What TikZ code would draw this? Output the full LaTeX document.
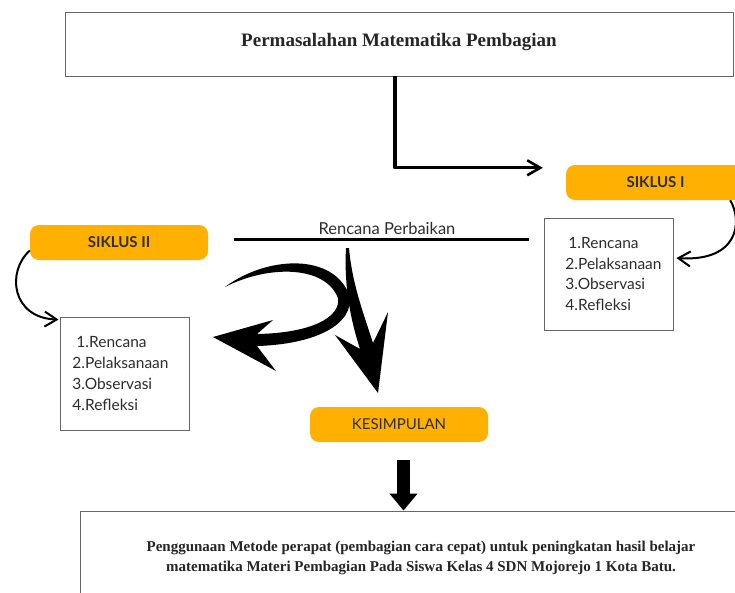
\documentclass[tikz,border=0pt]{standalone}
\usepackage{fontspec}
\setmainfont{Liberation Serif}
\newfontfamily\lato{Lato}
\usetikzlibrary{arrows.meta,calc}
\definecolor{orng}{RGB}{255,176,0}
\definecolor{txt}{RGB}{45,45,45}
\begin{document}
\begin{tikzpicture}[x=1pt,y=-1pt,
  box/.style={draw=black!60, line width=0.9pt, inner sep=0pt},
  pill/.style={fill=orng, rounded corners=9pt, inner sep=0pt, text=txt, minimum width=178pt, minimum height=35pt},
  conn/.style={line width=3.2pt, line join=round, -{Straight Barb[length=13pt,width=15pt,line width=2.6pt]}},
  curv/.style={line width=2pt, -{Straight Barb[length=12pt,width=15pt,line width=2pt]}},
  lst/.style={align=left, font=\lato\fontsize{15.5}{20.7}\selectfont, text=txt, inner sep=0pt},
  lbl/.style={font=\lato\bfseries\fontsize{15}{17}\selectfont},
  brush/.style={fill=black}]
\useasboundingbox (0,0) rectangle (735,592);
\fill[white] (0,0) rectangle (735,592);

% title box
\node[box, minimum width=668pt, minimum height=64pt] (top) at (399,44) {};
\node[font=\bfseries\fontsize{19}{22}\selectfont, text=black!85] (tt) at (399,42) {Permasalahan Matematika Pembagian};

% pills
\node[pill, lbl, minimum width=179pt] (s1) at (655.5,182.5) {SIKLUS I};
\node[pill, lbl] (s2) at (119,242.5) {SIKLUS II};
\node[pill, font=\lato\fontsize{15}{17}\selectfont] (kes) at (399,424.5) {KESIMPULAN};

% list boxes
\node[box, minimum width=129pt, minimum height=112pt] (b1) at (608.5,274) {};
\node[lst] (l1) at ([xshift=5pt]b1.center) {\hspace*{3pt}1.Rencana\\2.Pelaksanaan\\3.Observasi\\4.Refleksi};
\node[box, minimum width=129pt, minimum height=113pt] (b2) at (124.5,373.5) {};
\node[lst] (l2) at ([xshift=-4pt]b2.center) {\hspace*{4pt}1.Rencana\\2.Pelaksanaan\\3.Observasi\\4.Refleksi};

% Rencana Perbaikan
\node[font=\lato\fontsize{16.5}{18}\selectfont, text=txt] (rp) at (387,228) {Rencana Perbaikan};
\coordinate (rl) at (234,239);
\coordinate (rr) at (529,239);
\draw[line width=3pt] (rl) -- (rr);

% bottom box
\node[box, minimum width=665pt, minimum height=89pt] (bot) at (412.5,555.5) {};
\node[align=center, font=\bfseries\fontsize{15}{20}\selectfont, text=black!85] (bt) at (421,558)
  {Penggunaan Metode perapat (pembagian cara cepat) untuk peningkatan hasil belajar\\
   matematika Materi Pembagian Pada Siswa Kelas 4 SDN Mojorejo 1 Kota Batu.};

% connectors
\draw[conn] ([xshift=-4pt]top.south) |- ([xshift=-23pt,yshift=-3pt]s1.north west);
\draw[curv] ([xshift=-15pt]s1.south east) .. controls (743,222) and (738,262) .. ([xshift=3pt,yshift=16pt]b1.east);
\draw[curv] ([yshift=-8pt]s2.west) .. controls (6,272) and (12,318) .. ([xshift=-1pt,yshift=-3pt]b2.north west);

% down block arrow
\coordinate (da) at ([xshift=4.5pt,yshift=-18pt]kes.south);
\draw[line width=13pt, -{Triangle[length=17pt,width=27pt]}] (da) -- (da |- bot.north);

% brush arrows
\fill[brush] (225,287) .. controls (265,257) and (328,253) .. (347,290)
  .. controls (360,318) and (325,344) .. (257,346) -- (276,371) -- (213,337) -- (273,320) -- (257,334)
  .. controls (312,333) and (341,317) .. (338,298)
  .. controls (325,265) and (268,265) .. (225,287) -- cycle;
\fill[brush] (346,248) .. controls (344,285) and (350,318) .. (360,349) -- (335,335) -- (378,393)
  -- (388,312) -- (373,343) .. controls (363,312) and (352,283) .. (349,248) -- cycle;
\end{tikzpicture}
\end{document}
